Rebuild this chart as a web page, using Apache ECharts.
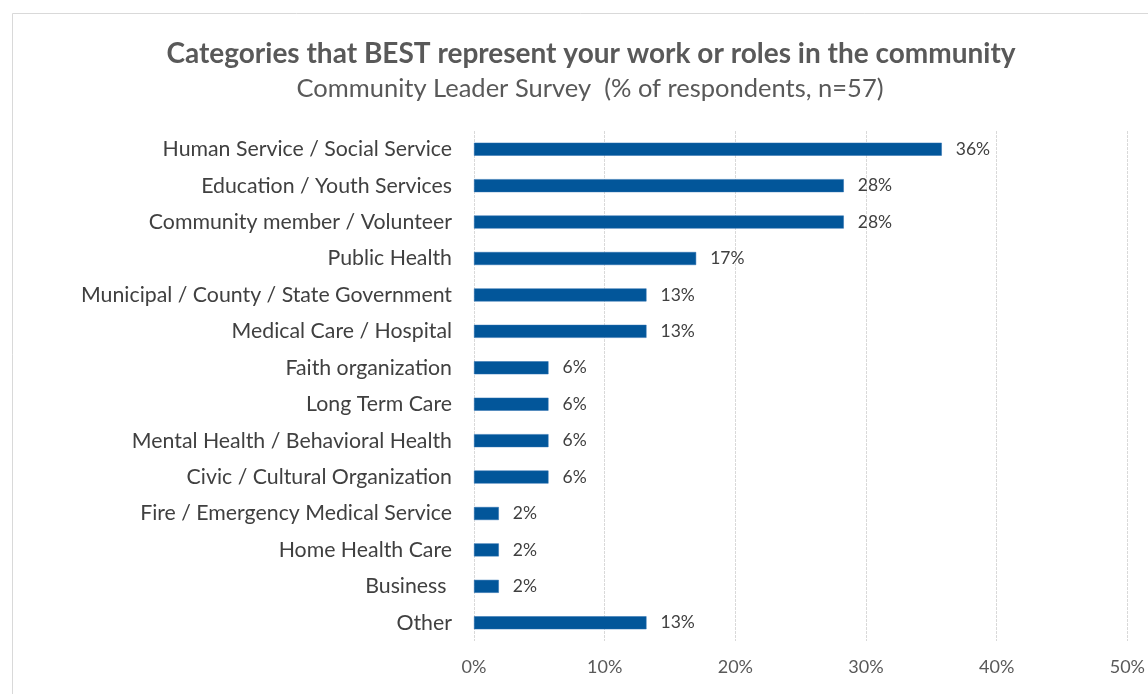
<!DOCTYPE html>
<html><head><meta charset="utf-8">
<script src="https://cdn.jsdelivr.net/npm/echarts@6/dist/echarts.min.js"></script>
<style>html,body{margin:0;padding:0;background:#fff}#c{width:1148px;height:694px}</style>
</head><body><div id="c"></div>
<script>
const categories = [
  "Human Service / Social Service",
  "Education / Youth Services",
  "Community member / Volunteer",
  "Public Health",
  "Municipal / County / State Government",
  "Medical Care / Hospital",
  "Faith organization",
  "Long Term Care",
  "Mental Health / Behavioral Health",
  "Civic / Cultural Organization",
  "Fire / Emergency Medical Service",
  "Home Health Care",
  "Business ",
  "Other"
];
const values = [35.8, 28.3, 28.3, 17.0, 13.2, 13.2, 5.7, 5.7, 5.7, 5.7, 1.9, 1.9, 1.9, 13.2];
const titleText = "Categories that BEST represent your work or roles in the community";
const subtitleText = "Community Leader Survey  (% of respondents, n=57)";

const chart = echarts.init(document.getElementById('c'), null, {renderer: 'canvas'});
const FONT = 'Lato';
chart.setOption({
  animation: false,
  backgroundColor: '#fff',
  graphic: [{
    type: 'rect', shape: {x: 12.5, y: 13.5, width: 1200, height: 750},
    style: {fill: 'none', stroke: '#d9d9d9', lineWidth: 1}, silent: true
  }],
  title: [{
    text: titleText, left: 586, top: 35, textAlign: 'center',
    textStyle: {fontFamily: FONT, fontWeight: 'bold', fontSize: 28, color: '#595959'}
  }, {
    text: subtitleText, left: 585, top: 71, textAlign: 'center',
    textStyle: {fontFamily: FONT, fontWeight: 'normal', fontSize: 25.5, color: '#595959'}
  }],
  grid: {left: 474, right: 17, top: 131, bottom: 53, containLabel: false},
  xAxis: {
    type: 'value', min: 0, max: 50, interval: 10,
    axisLine: {show: false}, axisTick: {show: false},
    splitLine: {show: true, lineStyle: {color: '#d9d9d9', type: [3, 1], width: 1}},
    axisLabel: {formatter: '{value}%', fontFamily: FONT, fontSize: 18, color: '#595959', margin: 17}
  },
  yAxis: {
    type: 'category', data: categories, inverse: true,
    axisLine: {show: false}, axisTick: {show: false},
    axisLabel: {fontFamily: FONT, fontSize: 21.3, color: '#404040', margin: 22}
  },
  series: [{
    type: 'bar', data: values, barWidth: 13,
    itemStyle: {color: '#02569a', borderColor: '#2a6fb0', borderWidth: 0.5},
    label: {show: true, position: 'right', distance: 14,
      formatter: p => Math.round(p.value) + '%',
      fontFamily: FONT, fontSize: 17.5, color: '#404040'}
  }]
});
</script></body></html>
